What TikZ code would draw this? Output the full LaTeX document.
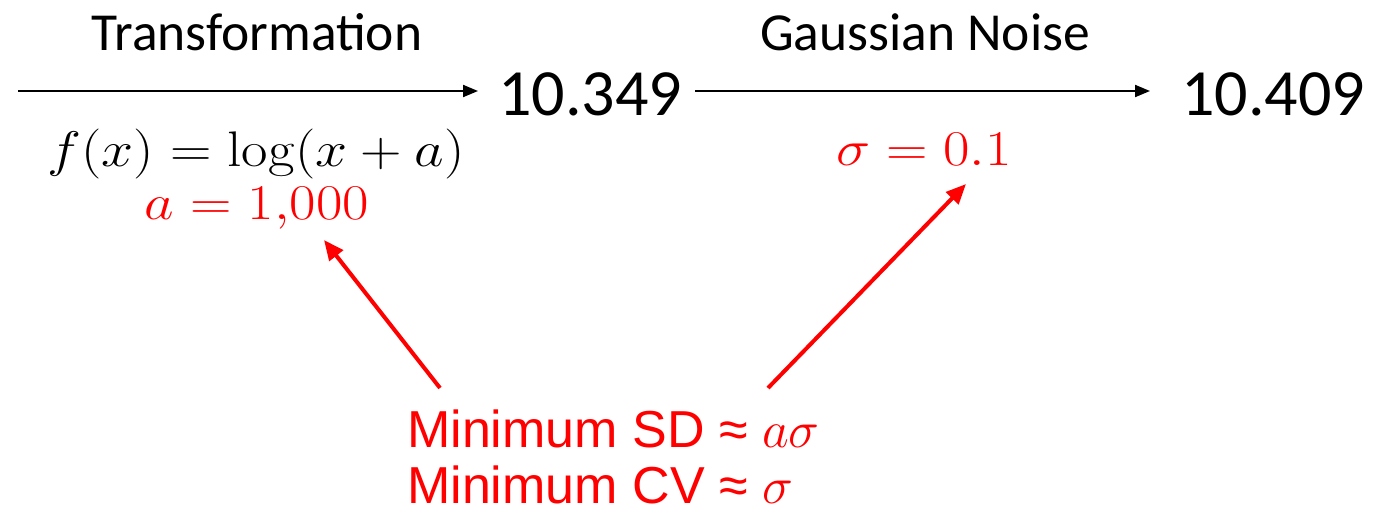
\documentclass[tikz,border=0pt]{standalone}
\usepackage{fix-cm}
\usepackage[no-math]{fontspec}
\setmainfont{Carlito}
\newfontfamily\arialf{Liberation Sans}
\usetikzlibrary{arrows.meta}
\definecolor{pred}{RGB}{255,0,0}
\tikzset{
  lbl/.style={inner sep=0pt, anchor=base, font=\fontsize{53.5}{62}\selectfont},
  num/.style={inner sep=0pt, anchor=base west, font=\fontsize{66}{74}\selectfont},
  mth/.style={inner sep=0pt, anchor=base, xscale=1.15, transform shape, font=\fontsize{50}{60}\selectfont},
  redt/.style={inner sep=0pt, anchor=base west, text=pred, text depth=0pt, font=\arialf\fontsize{52}{60}\selectfont},
  blk/.style={line width=2pt, -{Triangle[length=15pt,width=12pt]}},
  redarr/.style={draw=pred, line width=4pt, -{Triangle[length=20pt,width=17pt]}},
}
\begin{document}
\begin{tikzpicture}[x=1pt,y=-1pt]
\useasboundingbox (0,0) rectangle (1375,515);
\node[lbl] (tr) at (257,50) {Transformation};
\node[lbl] (gn) at (925,50) {Gaussian Noise};
\node[num] (n1) at (498,115) {10.349};
\node[num] (n2) at (1181,115) {10.409};
\coordinate (s1) at (18,91);
\coordinate (e1) at (478,91);
\coordinate (s2) at (695,91);
\coordinate (e2) at (1150,91);
\draw[blk] (s1) -- (e1);
\draw[blk] (s2) -- (e2);
\node[mth] (fx) at (256,166) {$f(x)=\log(x+a)$};
\node[mth, text=pred] (av) at (257,219) {$a=1{,}000$};
\node[mth, text=pred] (sg) at (924,165) {$\sigma=0.1$};
\node[redt] (m1) at (407,447) {Minimum SD ≈ $a\sigma$};
\node[redt] (m2) at (407,503) {Minimum CV ≈ $\sigma$};
\coordinate (r1s) at (440,388);
\coordinate (r1e) at (324,240);
\coordinate (r2s) at (768,388);
\coordinate (r2e) at (966,184);
\draw[redarr] (r1s) -- (r1e);
\draw[redarr] (r2s) -- (r2e);
\end{tikzpicture}
\end{document}
